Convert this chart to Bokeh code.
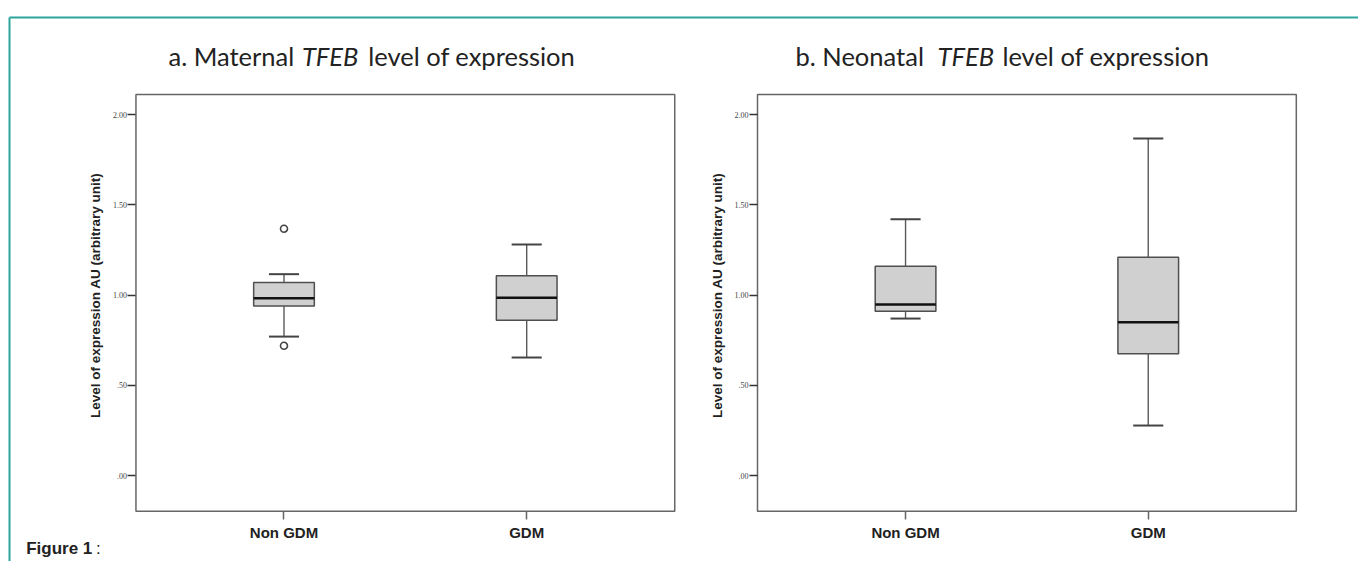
import math
from bokeh.plotting import figure
from bokeh.models import Range1d, FixedTicker, LinearAxis
from bokeh.core.properties import value
from bokeh.embed import file_html
from bokeh.resources import INLINE

# ---- data ----
categories = ["Non GDM", "GDM"]
cat_pos = [1, 2]
y_ticks = [0.0, 0.5, 1.0, 1.5, 2.0]
y_tick_labels = [".00", ".50", "1.00", "1.50", "2.00"]

maternal_lower = [0.770, 0.654]
maternal_q1 = [0.940, 0.861]
maternal_median = [0.983, 0.985]
maternal_q3 = [1.070, 1.107]
maternal_upper = [1.116, 1.280]
maternal_outlier_cat = [1, 1]
maternal_outlier_val = [1.368, 0.719]

neonatal_lower = [0.870, 0.277]
neonatal_q1 = [0.911, 0.675]
neonatal_median = [0.948, 0.850]
neonatal_q3 = [1.160, 1.210]
neonatal_upper = [1.421, 1.868]

# ---- layout constants ----
TEAL = "#2ba59d"
FRAME = "#666666"
TXT = "#222222"
BOX_W = 0.25
CAP_W = 0.124
X0, X1 = 0.39, 2.61          # panel x extent (category units)
Y0, Y1 = -0.198, 2.112       # panel y extent
OFF = 2.561                  # offset of the right panel in category units
XL, XR = -0.1681, 5.4273     # whole canvas extent
YB, YT = -0.4767, 2.6330

p = figure(width=1358, height=561, output_backend="svg", toolbar_location=None,
           x_range=Range1d(XL, XR), y_range=Range1d(YB, YT),
           x_axis_type=None, y_axis_type=None, min_border=0)
p.grid.visible = False
p.outline_line_color = None
p.background_fill_color = "white"
p.border_fill_color = "white"

# teal frame of the figure page
p.segment(x0=[-0.131, -0.131], y0=[2.539, 2.539], x1=[XR, -0.131], y1=[2.539, YB],
          line_color=TEAL, line_width=2)


def draw_panel(off, lower, q1, med, q3, upper, out_x=None, out_y=None):
    xs = [c + off for c in cat_pos]
    # panel box
    p.quad(left=[X0 + off], right=[X1 + off], bottom=[Y0], top=[Y1],
           fill_color=None, line_color=FRAME, line_width=1.5)
    # whiskers
    p.segment(x0=xs, y0=q3, x1=xs, y1=upper, line_color="#5a5a5a", line_width=1.4)
    p.segment(x0=xs, y0=q1, x1=xs, y1=lower, line_color="#5a5a5a", line_width=1.4)
    cl = [c - CAP_W / 2 for c in xs]
    cr = [c + CAP_W / 2 for c in xs]
    p.segment(x0=cl, y0=upper, x1=cr, y1=upper, line_color="#444444", line_width=2)
    p.segment(x0=cl, y0=lower, x1=cr, y1=lower, line_color="#444444", line_width=2)
    # boxes
    p.vbar(x=xs, bottom=q1, top=q3, width=BOX_W, fill_color="#d0d0d0",
           line_color="#4f4f4f", line_width=1.5)
    bl = [c - BOX_W / 2 for c in xs]
    br = [c + BOX_W / 2 for c in xs]
    p.segment(x0=bl, y0=med, x1=br, y1=med, line_color="#111111", line_width=2.5)
    if out_x is not None:
        p.scatter(x=[c + off for c in out_x], y=out_y, size=7, marker="circle",
                  fill_color="white", line_color="#444444", line_width=1.6)

    # y axis at the panel's left edge
    ya = LinearAxis(fixed_location=X0 + off, ticker=FixedTicker(ticks=y_ticks))
    ya.major_label_overrides = {k: v for k, v in zip(y_ticks, y_tick_labels)}
    ya.major_label_text_font = "Liberation Serif"
    ya.major_label_text_font_size = "8px"
    ya.major_label_text_color = "#444444"
    ya.major_tick_out = 8
    ya.major_tick_in = 0
    ya.minor_tick_line_color = None
    ya.major_tick_line_color = "#333333"
    ya.major_tick_line_width = 1.3
    ya.axis_line_color = None
    ya.major_label_standoff = 1
    p.add_layout(ya, "left")

    # x axis at the panel's bottom edge
    xa = LinearAxis(fixed_location=Y0, ticker=FixedTicker(ticks=xs))
    xa.major_label_overrides = {k: v for k, v in zip(xs, categories)}
    xa.major_label_text_font = "Liberation Sans"
    xa.major_label_text_font_style = "bold"
    xa.major_label_text_font_size = "15px"
    xa.major_label_text_color = TXT
    xa.major_tick_out = 8
    xa.major_tick_in = 0
    xa.minor_tick_line_color = None
    xa.major_tick_line_color = FRAME
    xa.major_tick_line_width = 1.5
    xa.axis_line_color = None
    xa.major_label_standoff = 5
    p.add_layout(xa, "below")

    # y axis title
    p.text(x=[0.2233 + off], y=[0.998], text=["Level of expression AU (arbitrary unit)"],
           angle=math.pi / 2, text_align="center", text_baseline="middle",
           text_font=value("Liberation Sans"), text_font_style="bold",
           text_font_size="13.5px", text_color=TXT)


draw_panel(0.0, maternal_lower, maternal_q1, maternal_median, maternal_q3, maternal_upper,
           maternal_outlier_cat, maternal_outlier_val)
draw_panel(OFF, neonatal_lower, neonatal_q1, neonatal_median, neonatal_q3, neonatal_upper)

# panel titles (with italic gene name)
TY = 2.328
title_style = dict(text_font=value("Lato"), text_font_size="25.5px", text_color=TXT,
                   text_baseline="middle", text_align="left")
p.text(x=[0.5241, 3.1076], y=[TY, TY], text=["a. Maternal", "b. Neonatal"], **title_style)
p.text(x=[1.0738, 3.6926], y=[TY, TY], text=["TFEB", "TFEB"], text_font_style="italic",
       **title_style)
p.text(x=[1.3469, 3.9600], y=[TY, TY], text=["level of expression", "level of expression"],
       **title_style)

# caption
p.text(x=[-0.0622], y=[-0.402], text=["Figure 1"], text_font=value("Liberation Sans"),
       text_font_style="bold", text_font_size="17px", text_color=TXT, text_baseline="middle")
p.text(x=[0.2250], y=[-0.402], text=[":"], text_font=value("Liberation Sans"),
       text_font_size="17px", text_color=TXT, text_baseline="middle")

open("out.html", "w").write(file_html(p, INLINE))
